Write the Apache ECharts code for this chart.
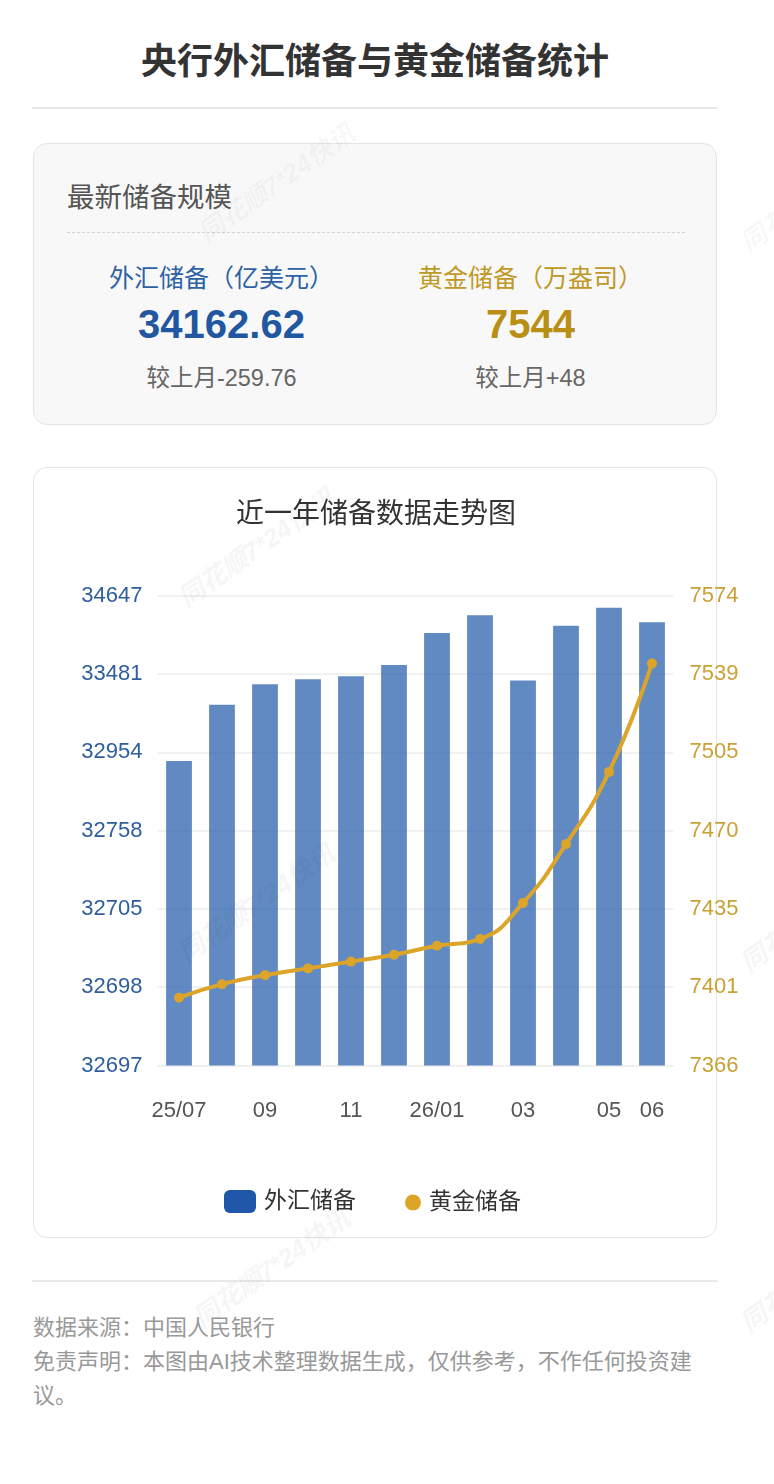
<!DOCTYPE html>
<html>
<head>
<meta charset="utf-8">
<script src="https://cdn.jsdelivr.net/npm/echarts@6/dist/echarts.min.js"></script>
<style>
  html, body { margin: 0; padding: 0; background: #ffffff; }
  body { width: 774px; height: 1484px; position: relative; overflow: hidden;
         font-family: "Liberation Sans", "Noto Sans CJK SC", sans-serif; }
  .abs { position: absolute; white-space: nowrap; }
  #title { left: 32px; width: 686px; top: 42px; text-align: center; font-size: 36px; line-height: 40px;
           font-weight: bold; color: #333333; }
  .rule { position: absolute; left: 32px; width: 686px; height: 2px; background: #e9e9e9; }
  #card1 { position: absolute; left: 33px; top: 143px; width: 682px; height: 280px; background: #f8f8f8;
           border: 1.5px solid #e4e4e4; border-radius: 14px; }
  #card2 { position: absolute; left: 33px; top: 467px; width: 682px; height: 769px; background: #ffffff;
           border: 1.5px solid #e4e4e4; border-radius: 14px; }
  #chart { position: absolute; left: 0px; top: 467px; width: 774px; height: 771px; }
  .wm { position: absolute; font-size: 26px; font-weight: bold; font-style: italic; color: rgba(0,0,0,0.04);
        transform: rotate(-35deg); transform-origin: left center; white-space: nowrap; }
</style>
</head>
<body>
<div id="title" class="abs">央行外汇储备与黄金储备统计</div>
<div class="rule" style="top:107px;"></div>

<div id="card1"></div>
<div class="abs" style="left:67px; top:181px; font-size:27.5px; line-height:33px; color:#555555;">最新储备规模</div>
<div class="abs" style="left:67px; top:232px; width:618px; border-top:1.5px dashed #d2d2d2;"></div>

<div class="abs" style="left:67px; width:309px; top:263px; text-align:center; font-size:25px; line-height:30px; color:#2e62a6;">外汇储备（亿美元）</div>
<div class="abs" style="left:67px; width:309px; top:301px; text-align:center; font-size:40px; line-height:46px; font-weight:bold; color:#2157a0;">34162.62</div>
<div class="abs" style="left:67px; width:309px; top:364px; text-align:center; font-size:23.5px; line-height:28px; color:#666666;">较上月-259.76</div>

<div class="abs" style="left:376px; width:309px; top:263px; text-align:center; font-size:25px; line-height:30px; color:#bf9826;">黄金储备（万盎司）</div>
<div class="abs" style="left:376px; width:309px; top:301px; text-align:center; font-size:40px; line-height:46px; font-weight:bold; color:#b88f14;">7544</div>
<div class="abs" style="left:376px; width:309px; top:364px; text-align:center; font-size:23.5px; line-height:28px; color:#666666;">较上月+48</div>

<div id="card2"></div>
<div id="chart"></div>

<div class="rule" style="top:1280px;"></div>
<div class="abs" style="left:33px; top:1311px; font-size:22px; line-height:34px; color:#999999;">数据来源：中国人民银行</div>
<div class="abs" style="left:33px; top:1345px; width:670px; white-space:normal; font-size:22px; line-height:34px; color:#999999;">免责声明：本图由AI技术整理数据生成，仅供参考，不作任何投资建议。</div>

<div class="wm" style="left:200px; top:215px;">同花顺7*24快讯</div>
<div class="wm" style="left:180px; top:580px;">同花顺7*24快讯</div>
<div class="wm" style="left:180px; top:935px;">同花顺7*24快讯</div>
<div class="wm" style="left:195px; top:1300px;">同花顺7*24快讯</div>
<div class="wm" style="left:742px; top:225px;">同花顺7*24快讯</div>
<div class="wm" style="left:742px; top:945px;">同花顺7*24快讯</div>
<div class="wm" style="left:742px; top:1305px;">同花顺7*24快讯</div>

<script>
// ---- data ----
const MONTHS = ['25/07', '08', '09', '10', '11', '12', '26/01', '02', '03', '04', '05', '06'];
// 外汇储备 (亿美元)
const FX_RESERVES = [32932, 33274, 33412, 33445, 33466, 33615, 34092, 34355, 33438, 34200, 34468, 34251];
// 黄金储备 (万盎司)
const GOLD_RESERVES = [7396, 7402, 7406, 7409, 7412, 7415, 7419, 7422, 7438, 7464, 7496, 7544];
// left axis tick labels (the reference's left axis is non-linear: evenly spaced ticks with these labels)
const FX_TICKS = [32697, 32698, 32705, 32758, 32954, 33481, 34647];
// right axis range
const GOLD_MIN = 7366, GOLD_MAX = 7574, GOLD_SPLITS = 6;

// map an FX value onto the left axis' tick-index scale (piecewise between the labelled ticks)
function fxToAxis(v) {
  for (let i = 0; i < FX_TICKS.length - 1; i++) {
    if (v <= FX_TICKS[i + 1]) return i + (v - FX_TICKS[i]) / (FX_TICKS[i + 1] - FX_TICKS[i]);
  }
  return FX_TICKS.length - 1;
}

const FONT = '"Liberation Sans", "Noto Sans CJK SC", sans-serif';
const chart = echarts.init(document.getElementById('chart'));
chart.setOption({
  animation: false,
  textStyle: { fontFamily: FONT },
  title: {
    text: '近一年储备数据走势图', left: 236, top: 34, padding: 0,
    textStyle: { fontSize: 28, fontWeight: 'normal', color: '#333333', fontFamily: FONT }
  },
  grid: { left: 157.5, right: 100.5, top: 128.7, bottom: 172.5, containLabel: false, outerBoundsMode: 'none' },
  legend: [
    { data: [{ name: '外汇储备', icon: 'roundRect', itemStyle: { color: '#1f58a8', opacity: 1 } }],
      left: 219, top: 718, itemWidth: 32, itemHeight: 23, itemGap: 8,
      textStyle: { fontSize: 23, color: '#333333', fontFamily: FONT, padding: [0, 0, 0, 3] } },
    { data: [{ name: '黄金储备', icon: 'circle', itemStyle: { color: '#dca52a' } }],
      left: 400, top: 719, itemWidth: 16, itemHeight: 16,
      textStyle: { fontSize: 23, color: '#333333', fontFamily: FONT, padding: [0, 0, 0, 3] } }
  ],
  xAxis: {
    type: 'category', data: MONTHS,
    axisLine: { show: true, lineStyle: { color: '#eeeeee' } },
    axisTick: { show: false },
    axisLabel: {
      fontSize: 22, color: '#555555', margin: 34, fontFamily: FONT,
      interval: (i) => i % 2 === 0 || i === MONTHS.length - 1
    }
  },
  yAxis: [
    {
      type: 'value', min: 0, max: FX_TICKS.length - 1, interval: 1,
      axisLine: { show: false }, axisTick: { show: false },
      splitLine: { show: true, lineStyle: { color: '#ececec', width: 1.5 } },
      axisLabel: { fontSize: 22, color: '#2e5e9e', margin: 15, fontFamily: FONT,
                   formatter: (v) => String(FX_TICKS[Math.round(v)]) }
    },
    {
      type: 'value', min: GOLD_MIN, max: GOLD_MAX, interval: (GOLD_MAX - GOLD_MIN) / GOLD_SPLITS,
      axisLine: { show: false }, axisTick: { show: false }, splitLine: { show: false },
      axisLabel: { fontSize: 22, color: '#c9a134', margin: 16, fontFamily: FONT,
                   formatter: (v) => String(Math.round(v)) }
    }
  ],
  series: [
    {
      name: '外汇储备', type: 'bar', yAxisIndex: 0, barWidth: '60%',
      data: FX_RESERVES.map(fxToAxis),
      itemStyle: { color: '#1f58a8', opacity: 0.7 }
    },
    {
      name: '黄金储备', type: 'line', yAxisIndex: 1, smooth: true,
      data: GOLD_RESERVES,
      symbol: 'circle', symbolSize: 10,
      lineStyle: { color: '#dca52a', width: 4 },
      itemStyle: { color: '#dca52a' }
    }
  ]
});
</script>
</body>
</html>
